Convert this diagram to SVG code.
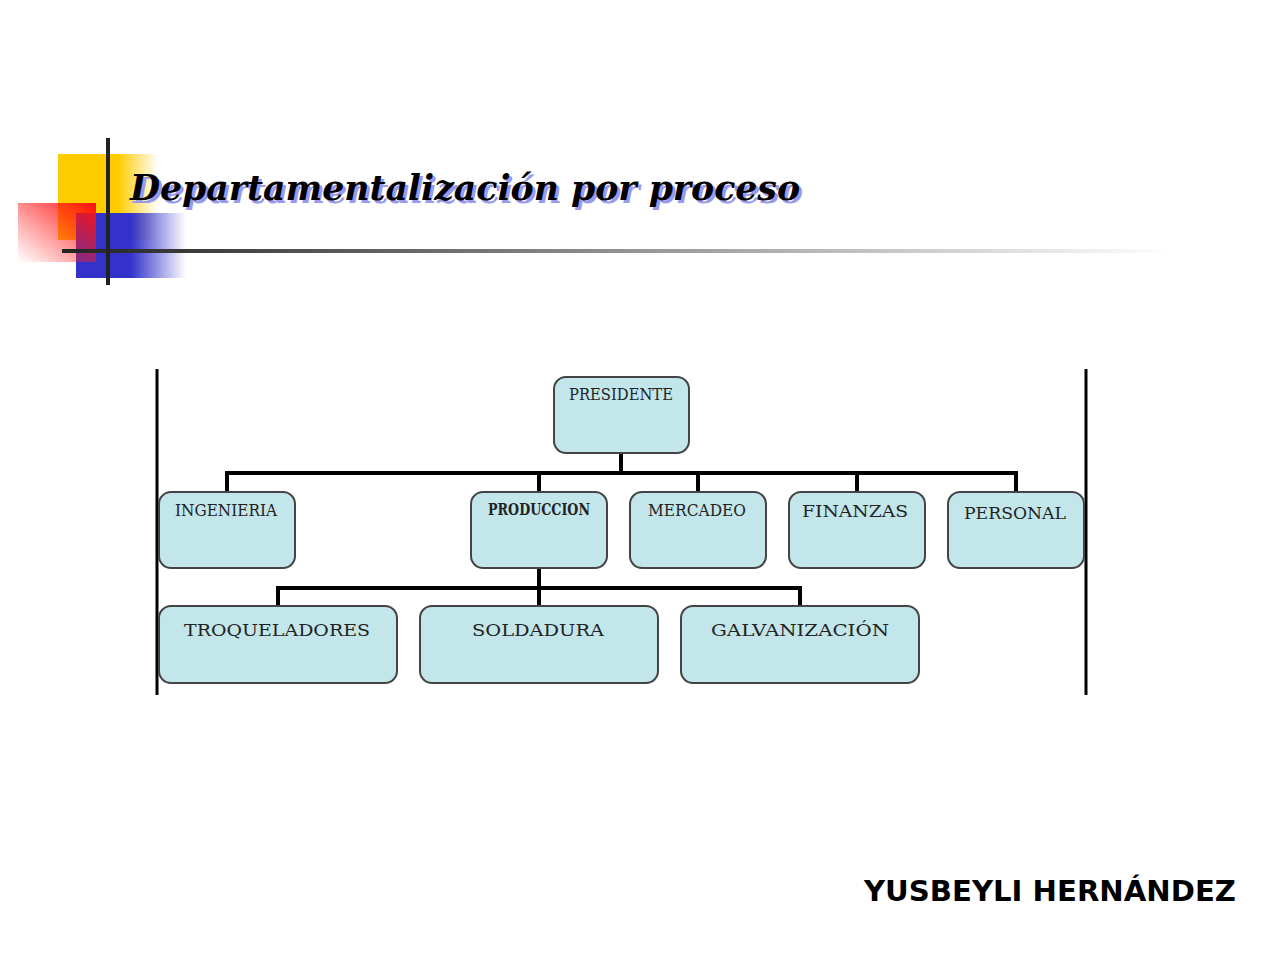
<svg xmlns="http://www.w3.org/2000/svg" width="1278" height="959" viewBox="0 0 1278 959">
<defs>
<linearGradient id="red" x1="1" y1="0" x2="0" y2="1"><stop offset="0" stop-color="#ff1010"/><stop offset="1" stop-color="#ff2020" stop-opacity="0"/></linearGradient>
<linearGradient id="blue" x1="0" y1="0" x2="1" y2="0"><stop offset="0.5" stop-color="#3333cc"/><stop offset="1" stop-color="#3333cc" stop-opacity="0"/></linearGradient>
<linearGradient id="yel" x1="0" y1="0" x2="1" y2="0"><stop offset="0.6" stop-color="#ffcc00"/><stop offset="1" stop-color="#ffcc00" stop-opacity="0"/></linearGradient>
<linearGradient id="hl" x1="0" y1="0" x2="1" y2="0"><stop offset="0" stop-color="#222"/><stop offset="1" stop-color="#fff"/></linearGradient>
</defs>
<style>
.box{fill:#c3e6eb;stroke:#444;stroke-width:2}
.lbl{font-family:"DejaVu Serif",serif;font-size:17px;fill:#222;text-anchor:middle}
.ln{stroke:#000;stroke-width:4;fill:none}
</style>
<rect width="1278" height="959" fill="#fff"/>
<g id="decor">
<rect x="58" y="154" width="100" height="86" fill="url(#yel)"/>
<rect x="76" y="213" width="110" height="65" fill="url(#blue)"/>
<rect x="18" y="203" width="78" height="59" fill="url(#red)"/>
<rect x="62" y="249" width="1110" height="4" fill="url(#hl)"/>
<rect x="106" y="138" width="4" height="147" fill="#222"/>
</g>
<g id="title" font-family="DejaVu Serif,serif" font-weight="bold" font-style="italic" font-size="36">
<text x="133" y="203" fill="#9999ee" textLength="670" lengthAdjust="spacingAndGlyphs">Departamentalización por proceso</text>
<text x="130" y="200" fill="#000" textLength="670" lengthAdjust="spacingAndGlyphs">Departamentalización por proceso</text>
</g>
<g id="frame"><line x1="157" y1="369" x2="157" y2="695" stroke="#000" stroke-width="3"/><line x1="1086" y1="369" x2="1086" y2="695" stroke="#000" stroke-width="3"/></g>
<g id="connectors" class="ln">
<path d="M621 453V473M227 492V473H1016V492M539 473V492M698 473V492M857 473V492"/>
<path d="M539 568V606M278 606V588H800V606"/>
</g>
<g id="presidente"><rect class="box" x="554" y="377" width="135" height="76" rx="12"/><text class="lbl" x="621" y="400" font-size="15" textLength="104" lengthAdjust="spacingAndGlyphs">PRESIDENTE</text></g>
<g id="ingenieria"><rect class="box" x="159" y="492" width="136" height="76" rx="12"/><text class="lbl" x="226" y="516" font-size="16" textLength="102" lengthAdjust="spacingAndGlyphs">INGENIERIA</text></g>
<g id="produccion"><rect class="box" x="471" y="492" width="136" height="76" rx="12"/><text class="lbl" x="539" y="515" font-size="14" font-weight="bold" textLength="102" lengthAdjust="spacingAndGlyphs">PRODUCCION</text></g>
<g id="mercadeo"><rect class="box" x="630" y="492" width="136" height="76" rx="12"/><text class="lbl" x="697" y="516" font-size="16" textLength="98" lengthAdjust="spacingAndGlyphs">MERCADEO</text></g>
<g id="finanzas"><rect class="box" x="789" y="492" width="136" height="76" rx="12"/><text class="lbl" x="855" y="517" font-size="18" textLength="106" lengthAdjust="spacingAndGlyphs">FINANZAS</text></g>
<g id="personal"><rect class="box" x="948" y="492" width="136" height="76" rx="12"/><text class="lbl" x="1015" y="519" font-size="18" textLength="102" lengthAdjust="spacingAndGlyphs">PERSONAL</text></g>
<g id="troqueladores"><rect class="box" x="159" y="606" width="238" height="77" rx="12"/><text class="lbl" x="277" y="636" font-size="19" textLength="186" lengthAdjust="spacingAndGlyphs">TROQUELADORES</text></g>
<g id="soldadura"><rect class="box" x="420" y="606" width="238" height="77" rx="12"/><text class="lbl" x="538" y="636" font-size="19" textLength="132" lengthAdjust="spacingAndGlyphs">SOLDADURA</text></g>
<g id="galvanizacion"><rect class="box" x="681" y="606" width="238" height="77" rx="12"/><text class="lbl" x="800" y="636" font-size="19" textLength="178" lengthAdjust="spacingAndGlyphs">GALVANIZACIÓN</text></g>
<text x="1236" y="901" text-anchor="end" font-family="DejaVu Sans,sans-serif" font-weight="bold" font-size="29" fill="#000" textLength="372" lengthAdjust="spacingAndGlyphs">YUSBEYLI HERNÁNDEZ</text>
</svg>
